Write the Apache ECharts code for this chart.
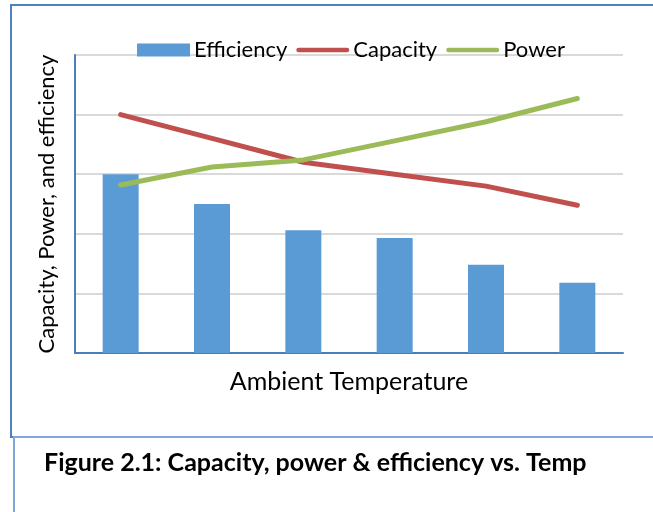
<!DOCTYPE html>
<html>
<head>
<meta charset="utf-8">
<script src="https://cdn.jsdelivr.net/npm/echarts@6/dist/echarts.min.js"></script>
<style>
  html, body { margin: 0; padding: 0; background: #fff; }
  #chart { width: 653px; height: 512px; }
</style>
</head>
<body>
<div id="chart"></div>
<script>
  // temperature steps (no labels shown on the axis)
  var categories = ['T1', 'T2', 'T3', 'T4', 'T5', 'T6']
  var efficiency = [3.0, 2.5, 2.06, 1.93, 1.48, 1.18]
  var capacity = [4.0, 3.6, 3.2, 3.0, 2.8, 2.48]
  var power = [2.82, 3.12, 3.24, 3.56, 3.88, 4.27]

  var chart = echarts.init(document.getElementById('chart'))
  var font = 'Lato, "Open Sans", sans-serif'
  var lineIcon = 'path://M2.5,0 L53.5,0 A2.5,2.5 0 0 1 53.5,5 L2.5,5 A2.5,2.5 0 0 1 2.5,0 Z'

  chart.setOption({
    animation: false,
    textStyle: { fontFamily: font },
    legend: {
      top: 34,
      left: 132,
      itemWidth: 53,
      itemHeight: 13,
      itemGap: 9,
      textStyle: { fontSize: 22, color: '#000', padding: [0, 0, 0, -1] },
      data: [
        { name: 'Efficiency', icon: 'rect' },
        { name: 'Capacity', icon: lineIcon },
        { name: 'Power', icon: lineIcon }
      ]
    },
    grid: { left: 75, right: 30, top: 55, bottom: 159 },
    xAxis: {
      type: 'category',
      data: categories,
      name: 'Ambient Temperature',
      nameLocation: 'middle',
      nameGap: 16,
      nameTextStyle: { fontSize: 25, color: '#000' },
      axisLine: { lineStyle: { color: '#4a7ebb', width: 2 } },
      axisTick: { show: false },
      axisLabel: { show: false }
    },
    yAxis: {
      type: 'value',
      min: 0,
      max: 5,
      interval: 1,
      name: 'Capacity, Power, and efficiency',
      nameLocation: 'middle',
      nameGap: 17,
      nameTextStyle: { fontSize: 22, color: '#000' },
      axisLine: { show: true, lineStyle: { color: '#4a7ebb', width: 2 } },
      axisTick: { show: false },
      axisLabel: { show: false },
      splitLine: { lineStyle: { color: '#d9d9d9', width: 2 } }
    },
    series: [
      {
        name: 'Efficiency',
        type: 'bar',
        barWidth: 36,
        itemStyle: { color: '#5b9bd5' },
        data: efficiency
      },
      {
        name: 'Capacity',
        type: 'line',
        symbol: 'none',
        lineStyle: { color: '#c0504d', width: 5, cap: 'round' },
        itemStyle: { color: '#c0504d' },
        data: capacity
      },
      {
        name: 'Power',
        type: 'line',
        symbol: 'none',
        lineStyle: { color: '#9bbb59', width: 5, cap: 'round' },
        itemStyle: { color: '#9bbb59' },
        data: power
      }
    ],
    graphic: [
      {
        type: 'rect',
        shape: { x: 11, y: 5, width: 650, height: 432 },
        style: { fill: 'none', stroke: '#4f81bd', lineWidth: 2 },
        z: -1
      },
      {
        type: 'rect',
        shape: { x: 14, y: 437, width: 650, height: 100 },
        style: { fill: '#fff', stroke: '#7fa7d9', lineWidth: 2 },
        z: -1
      },
      {
        type: 'text',
        left: 44,
        top: 450,
        style: {
          text: 'Figure 2.1: Capacity, power & efficiency vs. Temp',
          font: 'bold 25px ' + font,
          fill: '#000'
        }
      }
    ]
  })
</script>
</body>
</html>
